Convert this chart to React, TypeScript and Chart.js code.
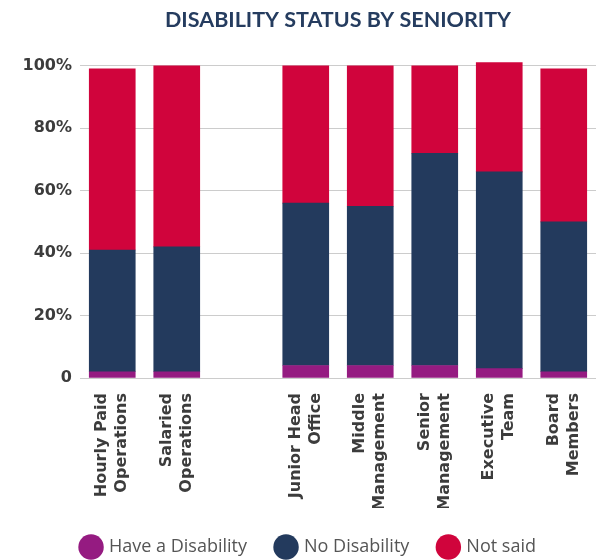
import React, { useEffect, useRef } from "react";
import { Chart, registerables } from "chart.js";

Chart.register(...registerables);

// Categories (empty string = visual spacer between the two groups)
const categories: (string | string[])[] = [
  ["Hourly Paid", "Operations"],
  ["Salaried", "Operations"],
  "",
  ["Junior Head", "Office"],
  ["Middle", "Management"],
  ["Senior", "Management"],
  ["Executive", "Team"],
  ["Board", "Members"],
];

const seriesNames = ["Have a Disability", "No Disability", "Not said"];
const haveDisability = [2, 2, null, 4, 4, 4, 3, 2];
const noDisability = [39, 40, null, 52, 51, 68, 63, 48];
const notSaid = [58, 58, null, 44, 45, 28, 35, 49];
const seriesColors = ["#951b81", "#233a5d", "#d0043c"];

const yMin = 0;
const yMax = 100;
const yStep = 20;

const titleText = "DISABILITY STATUS BY SENIORITY";

export default function App() {
  const ref = useRef<HTMLCanvasElement | null>(null);

  useEffect(() => {
    if (!ref.current) return;
    const values = [haveDisability, noDisability, notSaid];
    const chart = new Chart(ref.current, {
      type: "bar",
      data: {
        labels: categories as any,
        datasets: values.map((d, i) => ({
          label: seriesNames[i],
          data: d as any,
          backgroundColor: seriesColors[i],
          borderWidth: 0,
          barThickness: 46,
          clip: false as any,
        })),
      },
      options: {
        animation: false,
        responsive: true,
        maintainAspectRatio: false,
        layout: { padding: { left: 22, right: 0, top: 0, bottom: 0 } },
        plugins: {
          title: {
            display: true,
            text: titleText,
            fullSize: false,
            color: "#253c5f",
            font: { family: "Lato", size: 21.5, weight: "bold" },
            padding: { top: 7, bottom: 33 },
          },
          legend: {
            display: true,
            position: "bottom",
            labels: {
              usePointStyle: true,
              pointStyle: "circle",
              padding: 30,
              color: "#555555",
              font: { family: "Open Sans", size: 18 },
            },
          },
          tooltip: { enabled: false },
        },
        scales: {
          x: {
            stacked: true,
            afterFit: (scale: any) => {
              scale.height = 130;
              scale.paddingLeft = 0;
              scale.paddingRight = 0;
            },
            grid: { display: false, drawTicks: false },
            border: { display: false },
            ticks: {
              autoSkip: false,
              maxRotation: 90,
              minRotation: 90,
              padding: 15,
              labelOffset: -10,
              color: "#3c3c3c",
              font: { family: "DejaVu Sans", size: 16, weight: "bold", lineHeight: 1.25 },
            },
          },
          y: {
            stacked: true,
            min: yMin,
            max: yMax,
            afterFit: (scale: any) => {
              scale.width = 58;
            },
            grid: { color: "#cccccc", lineWidth: 1, drawTicks: false },
            border: { display: false },
            ticks: {
              stepSize: yStep,
              padding: 8,
              color: "#3c3c3c",
              font: { family: "DejaVu Sans", size: 16, weight: "bold" },
              callback: (v: any) => (Number(v) === 0 ? "0" : v + "%"),
            },
          },
        },
      },
    });
    return () => chart.destroy();
  }, []);

  return (
    <div
      style={{
        position: "absolute",
        left: 0,
        top: 0,
        width: 596,
        height: 560,
        overflow: "hidden",
        background: "#ffffff",
      }}
    >
      <div style={{ position: "relative", width: 596, height: 566 }}>
        <canvas ref={ref} />
      </div>
    </div>
  );
}
